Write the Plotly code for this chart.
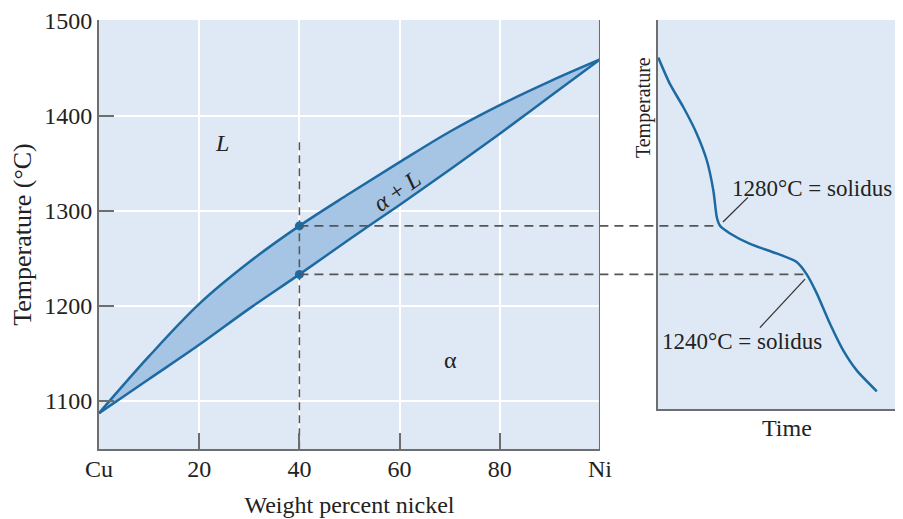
import plotly.graph_objects as go

# Cu-Ni phase diagram (left panel)
comp = [0, 10, 20, 30, 40, 50, 60, 70, 80, 90, 100]
liquidus = [1087, 1147, 1202, 1246, 1284, 1318, 1351, 1383, 1411, 1436, 1459]
solidus = [1087, 1123, 1159, 1197, 1233, 1270, 1306, 1343, 1381, 1420, 1459]

alloy = 40
t_upper = 1284
t_lower = 1233
alloy_line_top = 1372

# cooling curve (right panel)
time = [0.1, 4.9, 10.3, 15.8, 19.9, 22.6, 24.0, 25.3, 29.4, 37.6, 48.4, 56.6,
        60.7, 64.8, 70.2, 75.6, 81.1, 89.3]
temp = [1461, 1433, 1409, 1381, 1353, 1321, 1293, 1284, 1276, 1265, 1255, 1246,
        1233, 1213, 1181, 1153, 1132, 1110]
kink_upper = 25.3
kink_lower = 60.7

x_ticks = [0, 20, 40, 60, 80, 100]
x_ticktext = ['Cu', '20', '40', '60', '80', 'Ni']
y_ticks = [1100, 1200, 1300, 1400, 1500]

FONT = 'Liberation Serif, Times New Roman, serif'
LINE = '#1d6aa3'
BAND = '#a6c4e4'
BG = '#dfe9f5'
AX = '#6e6e6e'
DASH = '#555555'

x1_dom = [0, 0.6231]
x2_dom = [0.6953, 1.0]
x1_rng = [0, 100]
x2_rng = [0, 100]


def to_paper(v, dom, rng):
    return dom[0] + (v - rng[0]) / (rng[1] - rng[0]) * (dom[1] - dom[0])


fig = go.Figure()

# two-phase band
fig.add_trace(go.Scatter(x=comp + comp[::-1], y=liquidus + solidus[::-1],
                         fill='toself', fillcolor=BAND, mode='none', line_shape='spline',
                         hoverinfo='skip', xaxis='x', yaxis='y'))
fig.add_trace(go.Scatter(x=comp, y=liquidus, mode='lines', line=dict(color=LINE, width=2.5),
                         line_shape='spline', xaxis='x', yaxis='y'))
fig.add_trace(go.Scatter(x=comp, y=solidus, mode='lines', line=dict(color=LINE, width=2.5),
                         line_shape='spline', xaxis='x', yaxis='y'))

# vertical dashed alloy line
fig.add_trace(go.Scatter(x=[alloy, alloy], y=[alloy_line_top, 1049], mode='lines',
                         line=dict(color=DASH, width=1.5, dash='8px,5px'),
                         xaxis='x', yaxis='y'))

# cooling curve
fig.add_trace(go.Scatter(x=time, y=temp, mode='lines', line=dict(color=LINE, width=2.5),
                         line_shape='spline', line_smoothing=0.6, xaxis='x2', yaxis='y2'))

# dashed lines from the diagram to the cooling curve
for t, k in [(t_upper, kink_upper), (t_lower, kink_lower)]:
    fig.add_shape(type='line', xref='paper', yref='y',
                  x0=to_paper(alloy, x1_dom, x1_rng), x1=to_paper(k, x2_dom, x2_rng),
                  y0=t, y1=t, line=dict(color=DASH, width=1.8, dash='9px,6px'))

fig.add_trace(go.Scatter(x=[alloy, alloy], y=[t_upper, t_lower], mode='markers',
                         marker=dict(color=LINE, size=9), xaxis='x', yaxis='y'))

# right edge of the left panel
fig.add_shape(type='line', xref='x', yref='y domain', x0=100, x1=100, y0=0, y1=1,
              line=dict(color=AX, width=2))

# leader lines
fig.add_shape(type='line', xref='x2', yref='y2', x0=26.5, y0=1288, x1=36.7, y1=1314,
              line=dict(color='#333', width=1.3))
fig.add_shape(type='line', xref='x2', yref='y2', x0=60, y0=1228, x1=41.6, y1=1177,
              line=dict(color='#333', width=1.3))

ann_font = dict(family=FONT, size=24, color='#222')
small_font = dict(family=FONT, size=23, color='#222')
fig.add_annotation(x=24.6, y=1371, xref='x', yref='y', text='<i>L</i>', showarrow=False,
                   font=ann_font)
fig.add_annotation(x=70.2, y=1143, xref='x', yref='y', text='α', showarrow=False,
                   font=ann_font)
fig.add_annotation(x=59.5, y=1321, xref='x', yref='y', text='<i>α</i> + <i>L</i>',
                   showarrow=False, textangle=-35, font=ann_font)
fig.add_annotation(x=62.8, y=1323, xref='x2', yref='y2', text='1280°C = solidus',
                   showarrow=False, font=small_font)
fig.add_annotation(x=34.3, y=1162, xref='x2', yref='y2', text='1240°C = solidus',
                   showarrow=False, font=small_font)
fig.add_annotation(x=0.6766, y=0.797, xref='paper', yref='paper', text='Temperature',
                   showarrow=False, textangle=-90, font=dict(family=FONT, size=20, color='#222'),
                   xanchor='center', yanchor='middle')
fig.add_annotation(x=0.8557, y=0.049, xref='paper', yref='paper', text='Time',
                   showarrow=False, font=ann_font, xanchor='center', yanchor='middle')

# the page has an 8px body margin, so the margins are offset by it
fig.update_layout(
    width=903, height=519,
    margin=dict(l=91, r=8, t=12, b=78),
    paper_bgcolor='white', plot_bgcolor=BG,
    showlegend=False,
    font=dict(family=FONT, size=24, color='#222'),
    xaxis=dict(domain=x1_dom, range=x1_rng, tickvals=x_ticks, ticktext=x_ticktext,
               ticks='inside', ticklen=16, tickwidth=2, tickcolor=AX,
               showline=True, linecolor=AX, linewidth=2,
               showgrid=True, gridcolor='white', gridwidth=2, zeroline=False,
               title=dict(text='Weight percent nickel', standoff=15,
                          font=dict(family=FONT, size=24, color='#222')),
               ticklabelstandoff=-3, automargin=False),
    yaxis=dict(domain=[0, 1], range=[1049.4, 1500.5], tickvals=y_ticks,
               ticks='inside', ticklen=15, tickwidth=2, tickcolor=AX,
               showline=True, linecolor=AX, linewidth=2,
               showgrid=True, gridcolor='white', gridwidth=2, zeroline=False,
               title=dict(text='Temperature (°C)', standoff=23,
                          font=dict(family=FONT, size=26, color='#222')),
               ticklabelstandoff=0, ticklabeloverflow='allow', automargin=False),
    xaxis2=dict(domain=x2_dom, range=x2_rng, anchor='y2', showticklabels=False,
                showgrid=False, zeroline=False, showline=True, linecolor=AX, linewidth=2,
                automargin=False),
    yaxis2=dict(domain=[0.0932, 1], range=[1091.4, 1500.5], anchor='x2', showticklabels=False,
                showgrid=False, zeroline=False, showline=True, linecolor=AX, linewidth=2,
                automargin=False),
)

fig.write_html('out.html')
